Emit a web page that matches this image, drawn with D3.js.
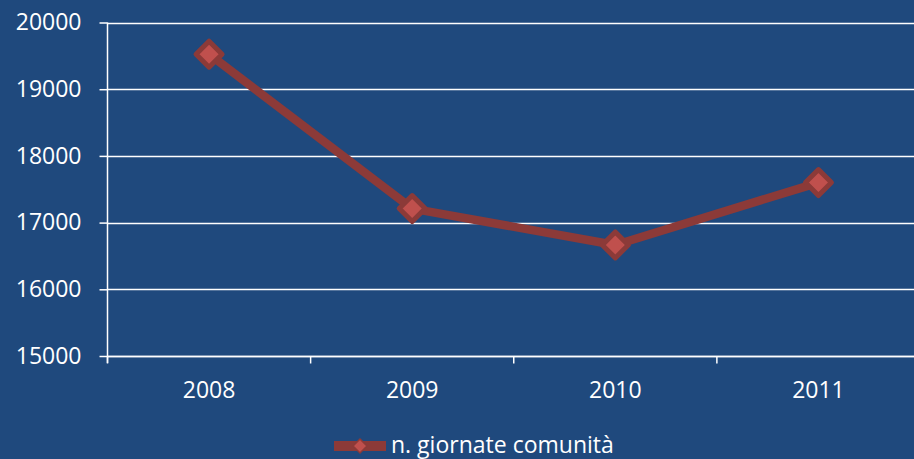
<!DOCTYPE html>
<html>
<head>
<meta charset="utf-8">
<script src="https://cdn.jsdelivr.net/npm/d3@7"></script>
<style>
html,body{margin:0;padding:0;background:#1F497D;}
svg{display:block;}
text{font-family:"Open Sans",sans-serif;fill:#fff;}
</style>
</head>
<body>
<svg id="chart" width="914" height="459"></svg>
<script>
const categories = ["2008", "2009", "2010", "2011"];
const values = [19525, 17210, 16665, 17600];
const yTicks = [15000, 16000, 17000, 18000, 19000, 20000];
const seriesName = "n. giornate comunità";

const W = 914, H = 459;
const m = {left: 107.5, right: -6, top: 22.5, bottom: 103};
const svg = d3.select("#chart");
svg.append("rect").attr("width", W).attr("height", H).attr("fill", "#1F497D");

const x = d3.scaleBand().domain(categories).range([m.left, W - m.right]).padding(0);
const y = d3.scaleLinear().domain([15000, 20000]).range([H - m.bottom, m.top]);

// gridlines
svg.append("g").selectAll("line").data(yTicks).join("line")
  .attr("x1", m.left).attr("x2", W)
  .attr("y1", d => Math.round(y(d)) + 0.5).attr("y2", d => Math.round(y(d)) + 0.5)
  .attr("stroke", "#fff").attr("stroke-width", 1.5);

// y axis
const yAxis = d3.axisLeft(y).tickValues(yTicks).tickSize(8).tickPadding(18).tickFormat(d3.format("d"));
const gy = svg.append("g").attr("transform", `translate(${m.left},0)`).call(yAxis);
gy.select(".domain").attr("stroke", "#fff").attr("stroke-width", 1.5).attr("d", `M0,${y(20000)}V${y(15000)+7}`);
gy.selectAll(".tick line").attr("stroke", "#fff").attr("stroke-width", 1.5);
gy.selectAll(".tick text").attr("fill", "#fff").style("font-size", "23px").style("font-family", "'Open Sans',sans-serif");

// x axis
const xb = d3.scaleOrdinal().domain(categories).range(categories.map(c => x(c) + x.bandwidth()/2));
const gx = svg.append("g").attr("transform", `translate(0,${Math.round(y(15000))+0.5})`);
const bounds = categories.map(c => x(c)).concat([x(categories[categories.length-1]) + x.bandwidth()]);
gx.append("line").attr("x1", m.left).attr("x2", W).attr("stroke", "#fff").attr("stroke-width", 1.5);
gx.selectAll("line.tk").data(bounds).join("line").attr("class", "tk")
  .attr("x1", d => d).attr("x2", d => d).attr("y1", 0).attr("y2", 7)
  .attr("stroke", "#fff").attr("stroke-width", 1.5);
gx.selectAll("text").data(categories).join("text")
  .attr("x", d => xb(d)).attr("y", 41).attr("text-anchor", "middle")
  .style("font-size", "23px").text(d => d);

// line
const pts = categories.map((c, i) => [xb(c), y(values[i])]);
svg.append("path").datum(pts)
  .attr("d", d3.line())
  .attr("fill", "none").attr("stroke", "#8C3A38").attr("stroke-width", 8.5)
  .attr("stroke-linejoin", "round");

// markers
svg.append("g").selectAll("path").data(pts).join("path")
  .attr("transform", d => `translate(${d[0]},${d[1]})`)
  .attr("d", () => {
    const r = 13;
    return `M0,${-r}L${r},0L0,${r}L${-r},0Z`;
  })
  .attr("fill", "#C0504D").attr("stroke", "#8C3A38").attr("stroke-width", 5).attr("stroke-linejoin", "round");

// legend
const lg = svg.append("g");
lg.append("line").attr("x1", 334).attr("x2", 386).attr("y1", 446).attr("y2", 446)
  .attr("stroke", "#8C3A38").attr("stroke-width", 10);
lg.append("path").attr("transform", "translate(360,446)")
  .attr("d", "M0,-7L7,0L0,7L-7,0Z").attr("fill", "#C0504D").attr("stroke", "#8C3A38").attr("stroke-width", 1.5);
lg.append("text").attr("x", 391).attr("y", 453).style("font-size", "23px").text(seriesName);
</script>
</body>
</html>
